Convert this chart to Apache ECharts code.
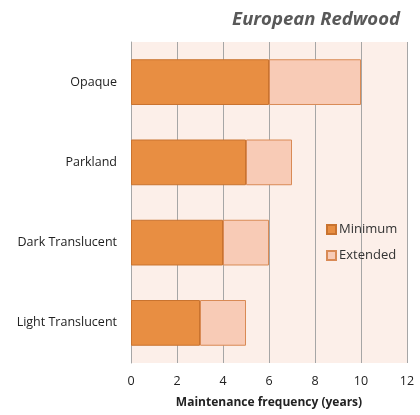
<!DOCTYPE html>
<html><head><meta charset="utf-8">
<script src="https://cdn.jsdelivr.net/npm/echarts@6/dist/echarts.min.js"></script>
<style>html,body{margin:0;padding:0;background:#fff}#c{width:420px;height:415px}</style>
</head><body><div id="c"></div>
<script>
var categories = ['Opaque', 'Parkland', 'Dark Translucent', 'Light Translucent'];
var minimumValues = [6, 5, 4, 3];
var extendedValues = [4, 2, 2, 2];
var xTicks = [0, 2, 4, 6, 8, 10, 12];
var chart = echarts.init(document.getElementById('c'));
chart.setOption({
  animation: false,
  backgroundColor: '#ffffff',
  title: {
    text: 'European Redwood', right: 15, top: 5,
    textStyle: {fontFamily: 'Open Sans', fontStyle: 'italic', fontWeight: 'bold', fontSize: 18.5, color: '#595959'}
  },
  legend: {
    orient: 'vertical', left: 321, top: 218, itemWidth: 9, itemHeight: 9, itemGap: 13,
    icon: 'rect',
    textStyle: {fontFamily: 'Open Sans', fontSize: 13, color: '#333', padding: [0, 0, 0, -2]},
    data: ['Minimum', 'Extended']
  },
  grid: {left: 131, right: 13, top: 42, bottom: 52, show: true, backgroundColor: '#FCEFE9', borderWidth: 0},
  xAxis: {
    type: 'value', min: 0, max: 12, interval: 2,
    axisLine: {show: false}, axisTick: {show: false},
    splitLine: {show: true, lineStyle: {color: '#A6A6A6', width: 1}},
    axisLabel: {fontFamily: 'Open Sans', fontSize: 12.5, color: '#222', margin: 12,
      formatter: function (v) { return xTicks.indexOf(v) >= 0 ? String(v) : ''; }},
    name: 'Maintenance frequency (years)', nameLocation: 'middle', nameGap: 34,
    nameTextStyle: {fontFamily: 'Open Sans', fontWeight: 'bold', fontSize: 12, color: '#222'}
  },
  yAxis: {
    type: 'category', data: categories, inverse: true,
    axisLine: {show: true, lineStyle: {color: '#A6A6A6'}}, axisTick: {show: false},
    axisLabel: {fontFamily: 'Open Sans', fontSize: 12.5, color: '#222', margin: 14}
  },
  series: [
    {name: 'Minimum', type: 'bar', stack: 'a', data: minimumValues, barWidth: '57%',
     itemStyle: {color: '#E88E42', borderColor: '#C9732F', borderWidth: 1}},
    {name: 'Extended', type: 'bar', stack: 'a', data: extendedValues, barWidth: '57%',
     itemStyle: {color: '#F8CBB6', borderColor: '#D98A55', borderWidth: 1}}
  ]
});
</script></body></html>
